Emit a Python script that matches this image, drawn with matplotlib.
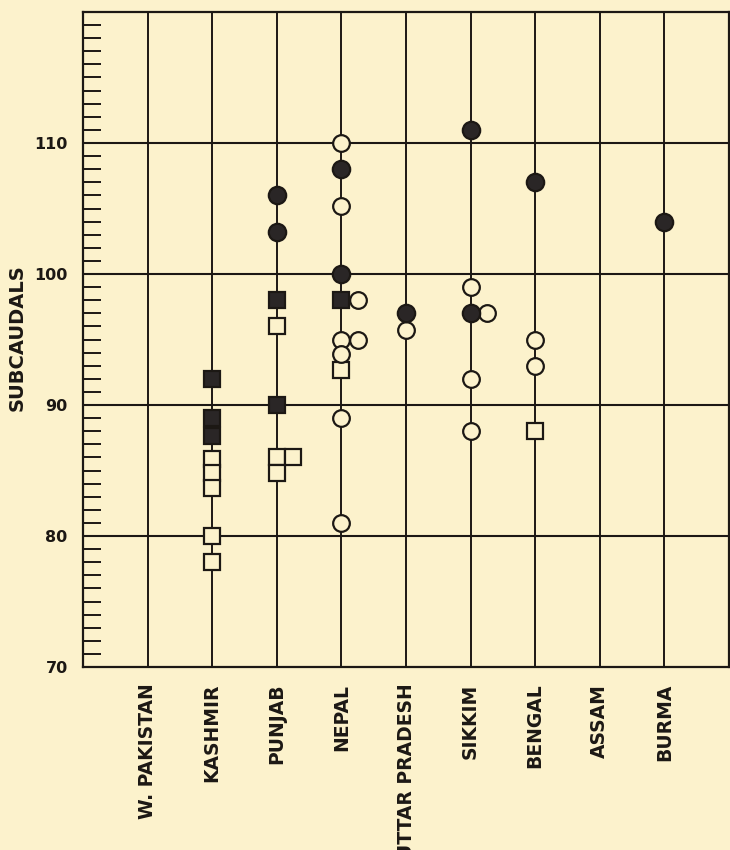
import numpy as np
import matplotlib.pyplot as plt
from matplotlib.ticker import MultipleLocator, FixedLocator

# Localities along the x axis
categories = ["W. PAKISTAN", "KASHMIR", "PUNJAB", "NEPAL", "UTTAR PRADESH",
              "SIKKIM", "BENGAL", "ASSAM", "BURMA"]

# Subcaudal counts; *_col = 1 means drawn beside the line
filled_circle_cat = ["PUNJAB", "PUNJAB", "NEPAL", "NEPAL", "UTTAR PRADESH",
                     "SIKKIM", "SIKKIM", "BENGAL", "BURMA"]
filled_circle_val = [106, 103.2, 108, 100, 97, 111, 97, 107, 104]
filled_circle_col = [0, 0, 0, 0, 0, 0, 0, 0, 0]

open_circle_cat = ["NEPAL", "NEPAL", "NEPAL", "NEPAL", "NEPAL", "NEPAL", "NEPAL",
                   "NEPAL", "UTTAR PRADESH", "SIKKIM", "SIKKIM", "SIKKIM",
                   "SIKKIM", "BENGAL", "BENGAL"]
open_circle_val = [110, 105.2, 98, 95, 95, 93.9, 89, 81, 95.7, 99, 97, 92, 88,
                   95, 93]
open_circle_col = [0, 0, 1, 0, 1, 0, 0, 0, 0, 0, 1, 0, 0, 0, 0]

filled_square_cat = ["KASHMIR", "KASHMIR", "KASHMIR", "PUNJAB", "PUNJAB", "NEPAL"]
filled_square_val = [92, 89, 87.6, 98, 90, 98]
filled_square_col = [0, 0, 0, 0, 0, 0]

open_square_cat = ["KASHMIR", "KASHMIR", "KASHMIR", "KASHMIR", "KASHMIR",
                   "PUNJAB", "PUNJAB", "PUNJAB", "PUNJAB", "NEPAL", "BENGAL"]
open_square_val = [85.9, 84.8, 83.7, 80, 78, 96, 86, 86, 84.8, 92.7, 88]
open_square_col = [0, 0, 0, 0, 0, 0, 0, 1, 0, 0, 0]

y_labels = [70, 80, 90, 100, 110]

BG = "#FCF2CC"
INK = "#1c1814"
DARK = "#2a2626"
SIDE = 0.25  # sideways shift for a marker set beside the line

fig = plt.figure(figsize=(7.3, 8.5), dpi=100, facecolor=BG)
ax = fig.add_axes([83 / 730, 1 - 667 / 850, 646 / 730, 655 / 850])
ax.set_facecolor(BG)

xpos = np.arange(1, len(categories) + 1)
ax.set_xlim(0, len(categories) + 1)
ax.set_ylim(70, 120)

# grid: one vertical line per locality, horizontal every 10
for x in xpos:
    ax.axvline(x, color=INK, lw=1.4, zorder=1)
for y in y_labels[1:]:
    ax.axhline(y, color=INK, lw=1.5, zorder=1)

for s in ax.spines.values():
    s.set_color(INK)
    s.set_linewidth(1.6)


def xs(cats, cols):
    return [categories.index(c) + 1 + SIDE * k for c, k in zip(cats, cols)]


mk = dict(linestyle="none", markeredgecolor=INK, markeredgewidth=1.6, zorder=3)
ax.plot(xs(open_square_cat, open_square_col), open_square_val, marker="s",
        markersize=11.5, markerfacecolor=BG, **mk)
ax.plot(xs(filled_square_cat, filled_square_col), filled_square_val, marker="s",
        markersize=11.5, markerfacecolor=DARK, **mk)
ax.plot(xs(open_circle_cat, open_circle_col), open_circle_val, marker="o",
        markersize=12, markerfacecolor=BG, **mk)
ax.plot(xs(filled_circle_cat, filled_circle_col), filled_circle_val, marker="o",
        markersize=12.5, markerfacecolor=DARK, **mk)

# ticks
ax.yaxis.set_major_locator(FixedLocator(y_labels))
ax.yaxis.set_minor_locator(MultipleLocator(1))
ax.set_yticklabels([str(v) for v in y_labels], fontsize=11.5, fontweight="bold",
                   color=INK)
ax.tick_params(axis="y", which="both", direction="in", length=13, width=1.4,
               color=INK, pad=11)
ax.set_xticks(xpos)
ax.set_xticklabels(categories, rotation=90, fontsize=13.5, fontweight="bold",
                   color=INK, va="top")
ax.tick_params(axis="x", length=0, pad=12)

fig.text(17.5 / 730, 1 - 338 / 850, "SUBCAUDALS", rotation=90, ha="center",
         va="center", fontsize=14, fontweight="bold", color=INK)

fig.savefig("out.png", dpi=100, facecolor=BG)
